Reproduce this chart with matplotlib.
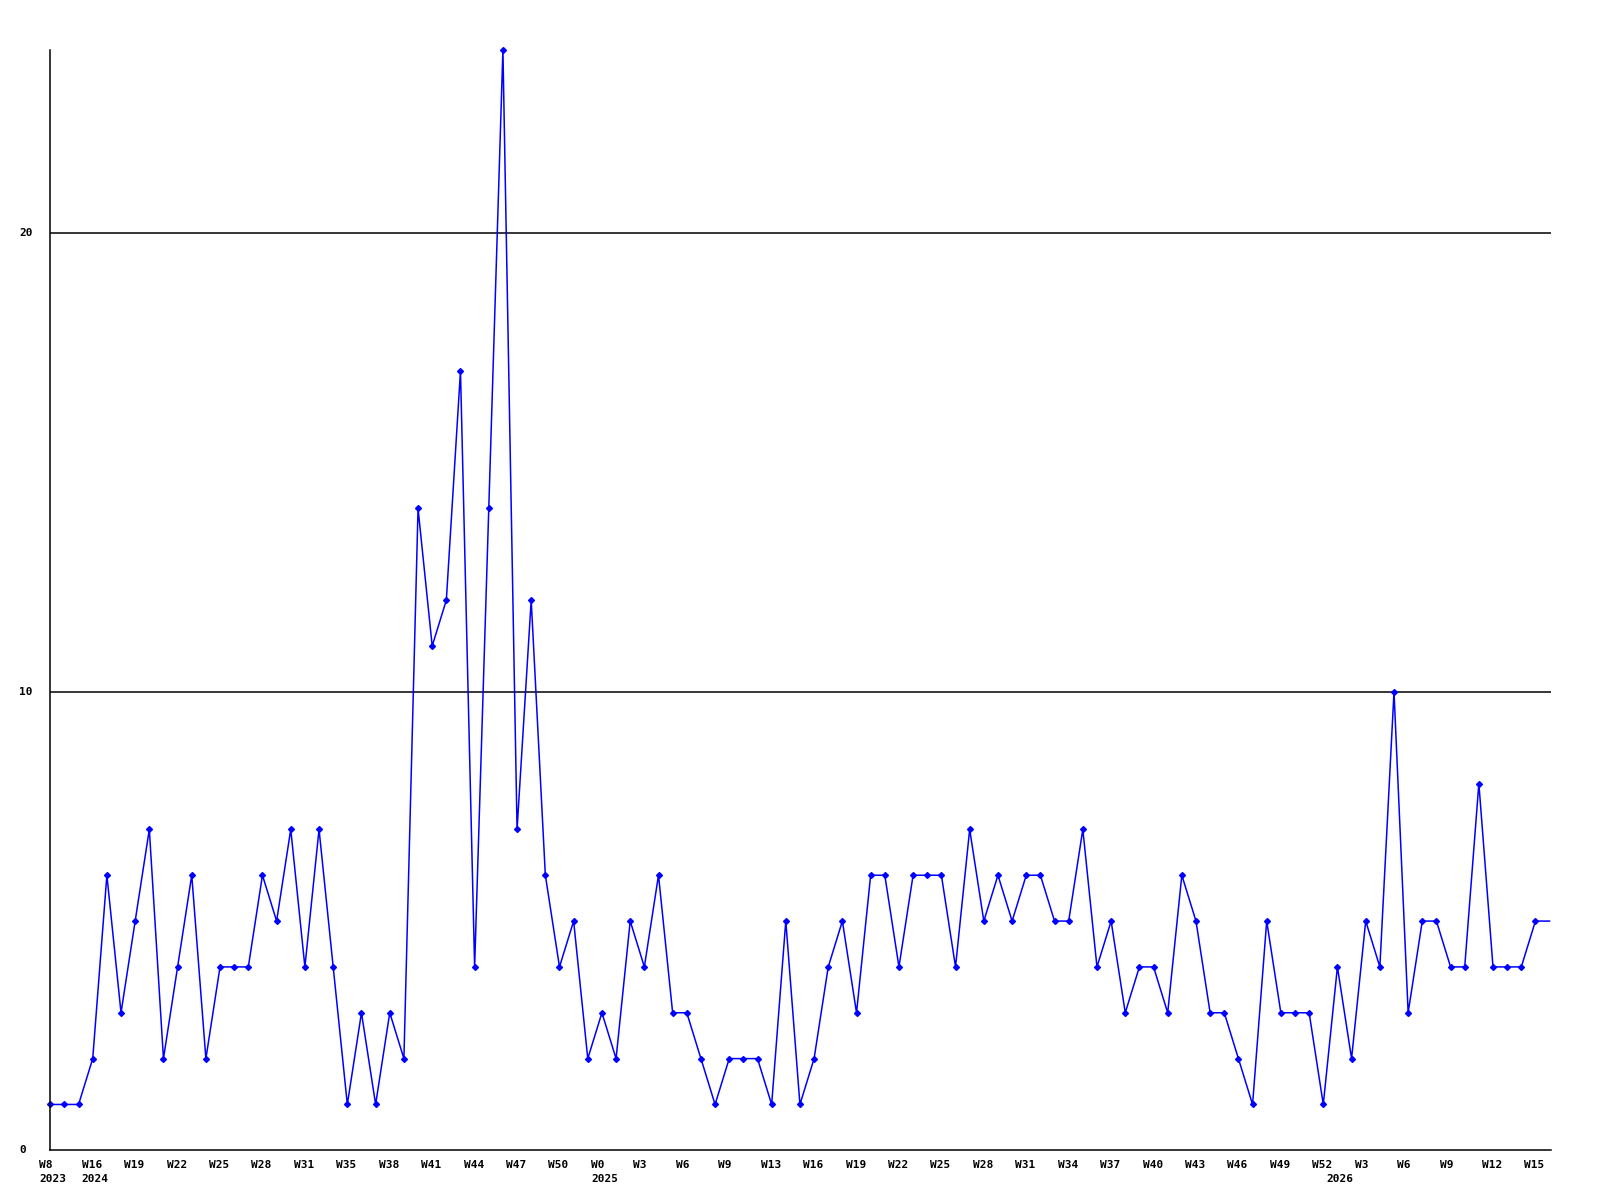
import matplotlib
matplotlib.use("Agg")
import matplotlib.pyplot as plt
import matplotlib.transforms as mtransforms
import numpy as np

# weekly counts
values = [1, 1, 1, 2, 6, 3, 5, 7, 2, 4, 6, 2, 4, 4, 4, 6, 5, 7, 4, 7,
          4, 1, 3, 1, 3, 2, 14, 11, 12, 17, 4, 14, 24, 7, 12, 6, 4, 5, 2, 3,
          2, 5, 4, 6, 3, 3, 2, 1, 2, 2, 2, 1, 5, 1, 2, 4, 5, 3, 6, 6,
          4, 6, 6, 6, 4, 7, 5, 6, 5, 6, 6, 5, 5, 7, 4, 5, 3, 4, 4, 3,
          6, 5, 3, 3, 2, 1, 5, 3, 3, 3, 1, 4, 2, 5, 4, 10, 3, 5, 5, 4,
          4, 8, 4, 4, 4, 5, 5]

week_labels = ["W8", "W16", "W19", "W22", "W25", "W28", "W31", "W35", "W38",
               "W41", "W44", "W47", "W50", "W0", "W3", "W6", "W9", "W13",
               "W16", "W19", "W22", "W25", "W28", "W31", "W34", "W37", "W40",
               "W43", "W46", "W49", "W52", "W3", "W6", "W9", "W12", "W15"]
# year labels sit under the first point of each year
year_pos = [0, 3, 39, 91]
year_labels = ["2023", "2024", "2025", "2026"]

y_ticks = [0, 10, 20]

x = np.arange(len(values))

fig = plt.figure(figsize=(16, 12), dpi=100)
ax = fig.add_axes([50.3 / 1600, 1 - 1150.3 / 1200, 1500.7 / 1600, 1100.3 / 1200])

ax.plot(x, values, color="#0000ff", linewidth=1.1, marker="D", markersize=3,
        markevery=list(range(len(values) - 1)), clip_on=False)

for v in y_ticks[1:]:
    ax.axhline(v, color="black", linewidth=1.1, zorder=0)

ax.set_xlim(0, 106.1)
ax.set_ylim(0, 24)
ax.set_xticks([])
ax.set_yticks([])
ax.spines["top"].set_visible(False)
ax.spines["right"].set_visible(False)
ax.spines["left"].set_linewidth(1.1)
ax.spines["bottom"].set_linewidth(1.1)

font = dict(family="DejaVu Sans Mono", fontweight="bold", fontsize=8)

# y labels, left aligned near the figure edge
ytr = mtransforms.blended_transform_factory(fig.transFigure, ax.transData)
for v in y_ticks:
    ax.text(19 / 1600, v, str(v), transform=ytr, ha="left", va="center", **font)

# x labels every 3 points, shifted a bit left of the point
shift = mtransforms.offset_copy(ax.get_xaxis_transform(), fig=fig, x=-11, y=-10, units="dots")
shift2 = mtransforms.offset_copy(ax.get_xaxis_transform(), fig=fig, x=-11, y=-24, units="dots")
for i, lab in enumerate(week_labels):
    ax.text(i * 3, 0, lab, transform=shift, ha="left", va="top", **font)
for p, lab in zip(year_pos, year_labels):
    ax.text(p, 0, lab, transform=shift2, ha="left", va="top", **font)

fig.savefig("out.png", dpi=100)
